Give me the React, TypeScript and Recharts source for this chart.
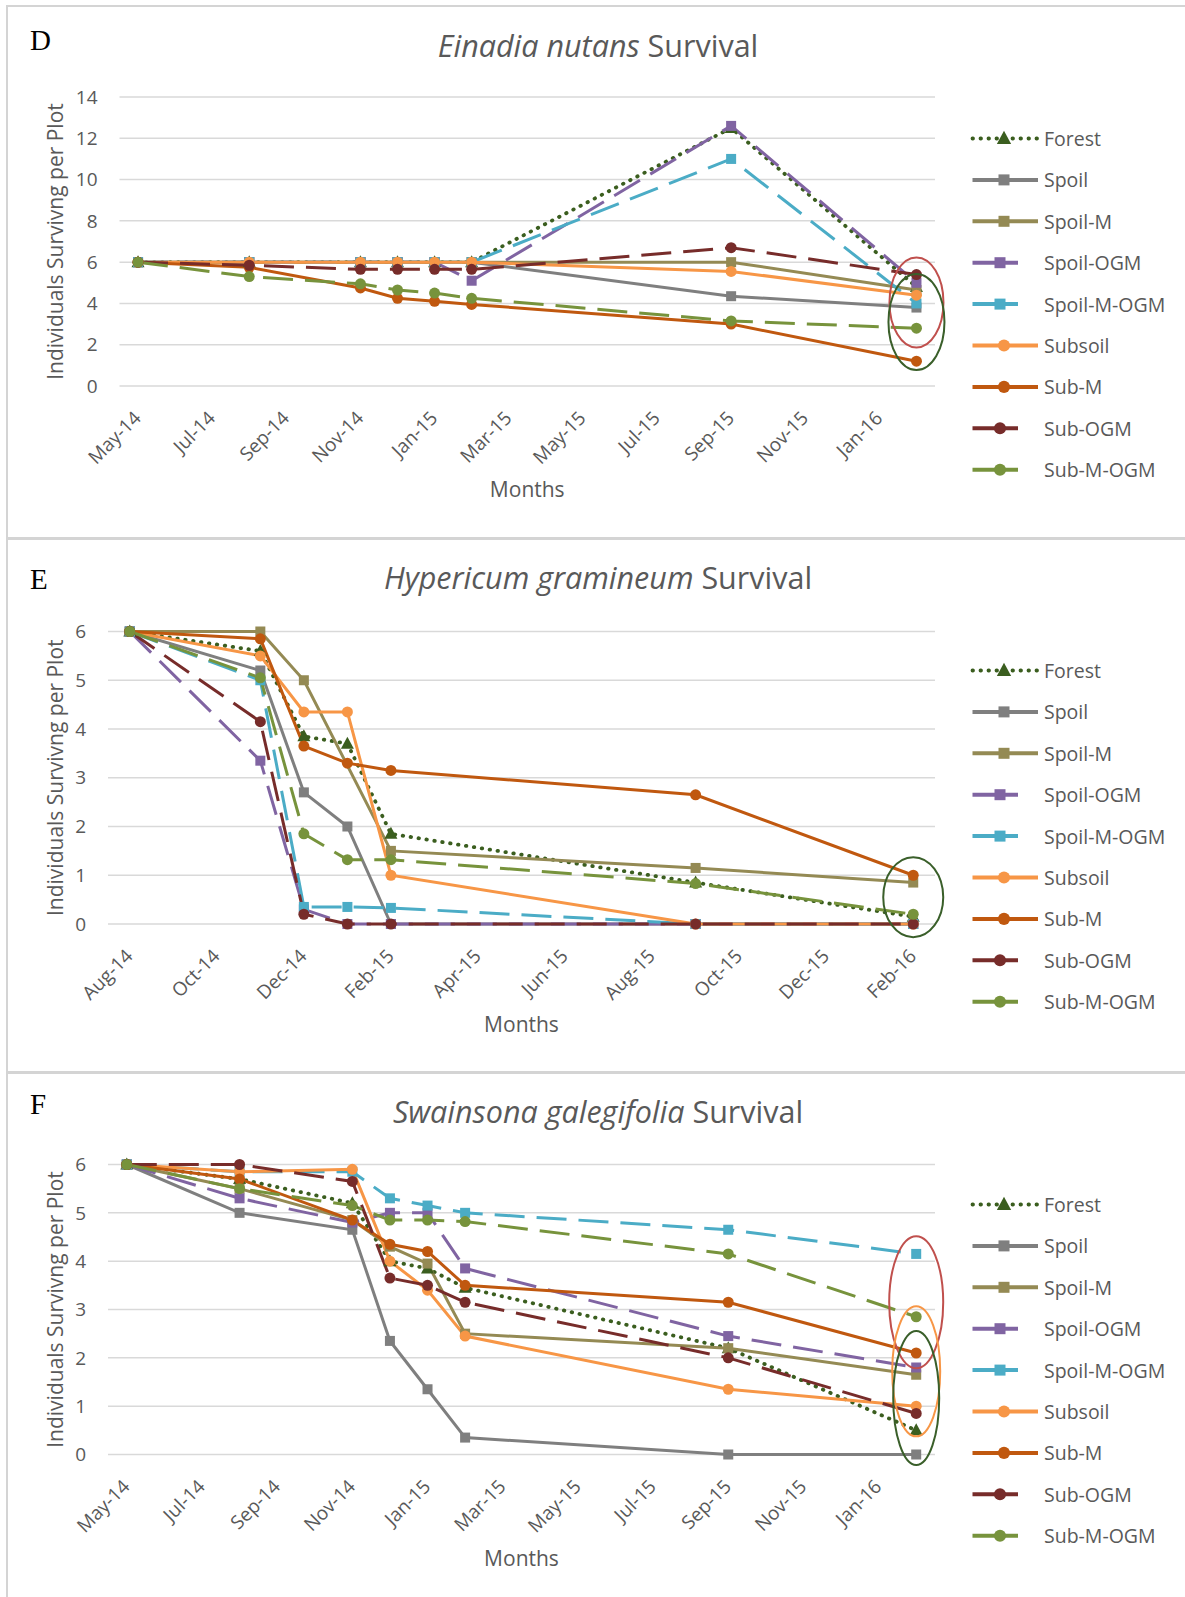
import React from "react";
import { CartesianGrid, Line, LineChart, ReferenceDot, XAxis, YAxis } from "recharts";

const FONT = "'Open Sans', sans-serif";
const TEXT = "#595959";
const GRID = "#d9d9d9";

const SERIES = ["Forest", "Spoil", "Spoil-M", "Spoil-OGM", "Spoil-M-OGM", "Subsoil", "Sub-M", "Sub-OGM", "Sub-M-OGM"];
const COLORS = ["#3b5e1f", "#7f7f7f", "#948a54", "#8064a2", "#4bacc6", "#f79646", "#c0580f", "#772c2a", "#77933c"];
const MARKERS = ["triangle", "square", "square", "square", "square", "circle", "circle", "circle", "circle"];
const STROKES = ["dot", "solid", "solid", "dash", "dash", "solid", "solid", "dash", "dash"];

const MAY_LABELS = ["May-14", "Jul-14", "Sep-14", "Nov-14", "Jan-15", "Mar-15", "May-15", "Jul-15", "Sep-15", "Nov-15", "Jan-16"];
const AUG_LABELS = ["Aug-14", "Oct-14", "Dec-14", "Feb-15", "Apr-15", "Jun-15", "Aug-15", "Oct-15", "Dec-15", "Feb-16"];

// D: Einadia nutans, months after May-14, rows in SERIES order
const EINADIA_MONTHS = [0, 3, 6, 7, 8, 9, 16, 21];
const EINADIA_VALUES = [
  [6, 6, 6, 6, 6, 6, 12.5, 4.8],
  [6, 6, 6, 6, 6, 6, 4.35, 3.8],
  [6, 6, 6, 6, 6, 6, 6.0, 4.65],
  [6, 6, 6, 6, 6, 5.1, 12.6, 5.0],
  [6, 6, 6, 6, 6, 6, 11.0, 4.0],
  [6, 6, 6, 6, 6, 6, 5.55, 4.4],
  [6, 5.75, 4.75, 4.25, 4.1, 3.95, 3.0, 1.2],
  [6, 5.85, 5.65, 5.65, 5.65, 5.65, 6.7, 5.4],
  [6, 5.3, 4.95, 4.65, 4.5, 4.25, 3.15, 2.8],
];

// E: Hypericum gramineum, months after Aug-14
const HYPERICUM_MONTHS = [0, 3, 4, 5, 6, 13, 18];
const HYPERICUM_VALUES = [
  [6, 5.6, 3.85, 3.7, 1.85, 0.85, 0.15],
  [6, 5.2, 2.7, 2.0, 0, 0, 0],
  [6, 6, 5.0, null, 1.5, 1.15, 0.85],
  [6, 3.35, 0.3, 0, 0, 0, 0],
  [6, 5.0, 0.35, 0.35, 0.33, 0, 0],
  [6, 5.5, 4.35, 4.35, 1.0, 0, 0],
  [6, 5.85, 3.65, 3.3, 3.15, 2.65, 1.0],
  [6, 4.15, 0.2, 0, 0, 0, 0],
  [6, 5.05, 1.85, 1.32, 1.32, 0.83, 0.2],
];

// F: Swainsona galegifolia, months after May-14
const SWAINSONA_MONTHS = [0, 3, 6, 7, 8, 9, 16, 21];
const SWAINSONA_VALUES = [
  [6, 5.7, 5.2, 4.0, 3.85, 3.45, 2.2, 0.5],
  [6, 5.0, 4.65, 2.35, 1.35, 0.35, 0, 0],
  [6, 5.5, 4.85, 4.3, 3.95, 2.5, 2.2, 1.65],
  [6, 5.3, 4.8, 5.0, 5.0, 3.85, 2.45, 1.8],
  [6, 5.85, 5.85, 5.3, 5.15, 5.0, 4.65, 4.15],
  [6, 5.85, 5.9, 4.0, 3.4, 2.45, 1.35, 1.0],
  [6, 5.7, 4.85, 4.35, 4.2, 3.5, 3.15, 2.1],
  [6, 6.0, 5.65, 3.65, 3.5, 3.15, 2.0, 0.85],
  [6, 5.5, 5.15, 4.85, 4.85, 4.82, 4.15, 2.85],
];

type Ring = { x: number; y: number; rx: number; ry: number; color: string };
type Plot = { left: number; right: number; top: number; bottom: number };

const EINADIA_RINGS: Ring[] = [
  { x: 21, y: 4.05, rx: 27, ry: 45, color: "#c0504d" },
  { x: 21, y: 3.1, rx: 28, ry: 48, color: "#3a5f2a" },
];
const HYPERICUM_RINGS: Ring[] = [{ x: 18, y: 0.55, rx: 30, ry: 40, color: "#3a5f2a" }];
const SWAINSONA_RINGS: Ring[] = [
  { x: 21, y: 3.15, rx: 27, ry: 66, color: "#c0504d" },
  { x: 21, y: 1.72, rx: 24, ry: 65, color: "#f79646" },
  { x: 21, y: 1.17, rx: 23, ry: 67, color: "#3a5f2a" },
];

function dashFor(kind: string) {
  if (kind === "dot") return { strokeDasharray: "0.5 7.5", strokeLinecap: "round" as const, strokeWidth: 3.8 };
  if (kind === "dash") return { strokeDasharray: "30 12", strokeWidth: 3 };
  return { strokeWidth: 3 };
}

function marker(shape: string, color: string, cx: number, cy: number, key?: any, s = 1) {
  if (shape === "square")
    return <rect key={key} x={cx - 5 * s} y={cy - 5 * s} width={10 * s} height={10 * s} fill={color} />;
  if (shape === "circle") return <circle key={key} cx={cx} cy={cy} r={5.5 * s} fill={color} />;
  return (
    <polygon
      key={key}
      points={`${cx},${cy - 7 * s} ${cx + 6.5 * s},${cy + 5 * s} ${cx - 6.5 * s},${cy + 5 * s}`}
      fill={color}
    />
  );
}

const makeDot = (shape: string, color: string) => (p: any) => {
  if (p.cx == null || p.cy == null || p.value == null) return <g key={`n${p.index}`} />;
  return marker(shape, color, p.cx, p.cy, `d${p.index}`);
};

const makeTick = (labels: string[]) => (p: any) => {
  const x = p.x - 5;
  const y = p.y + 4;
  return (
    <text
      x={x}
      y={y}
      dy={13}
      transform={`rotate(-45 ${x} ${y})`}
      textAnchor="end"
      fontSize={19}
      fontFamily={FONT}
      fill={TEXT}
    >
      {labels[Math.round(p.payload.value / 2)]}
    </text>
  );
};

function LegendBox() {
  return (
    <svg width={225} height={380} style={{ position: "absolute", left: 960, top: 110 }}>
      {SERIES.map((s, i) => {
        const y = 23.5 + i * 41.4;
        const kind = STROKES[i];
        const end = kind === "dash" ? 58 : 78;
        const mx = kind === "dash" ? 40 : 44;
        const lineStyle = kind === "dot" ? dashFor("dot") : { strokeWidth: 4 };
        return (
          <g key={s}>
            <line x1={12.5} x2={end} y1={y} y2={y} stroke={COLORS[i]} {...lineStyle} />
            {marker(MARKERS[i], COLORS[i], mx, y, undefined, 1.1)}
            <text x={84} y={y} dominantBaseline="central" fontSize={19.5} fontFamily={FONT} fill={TEXT}>
              {s}
            </text>
          </g>
        );
      })}
    </svg>
  );
}

type PanelProps = {
  top: number;
  height: number;
  letter: string;
  letterTop: number;
  species: string;
  months: number[];
  values: (number | null)[][];
  labels: string[];
  yMax: number;
  yStep: number;
  plot: Plot;
  monthsBaseline: number;
  rings: Ring[];
};

function Panel(props: PanelProps) {
  const { top, height, letter, letterTop, species, months, values, labels, yMax, yStep, plot, monthsBaseline, rings } = props;
  const rows = months.map((m, i) => {
    const row: Record<string, number | null> = { m };
    SERIES.forEach((s, k) => {
      row[s] = values[k][i];
    });
    return row;
  });
  const yTicks = Array.from({ length: yMax / yStep + 1 }, (_, i) => i * yStep);
  const xTicks = labels.map((_, i) => i * 2);
  const last = months[months.length - 1];
  const axisH = 120;

  return (
    <div
      style={{
        position: "absolute",
        left: 0,
        top,
        width: 1185,
        height,
        fontFamily: FONT,
      }}
    >
      <div
        style={{
          position: "absolute",
          left: 6,
          top: 0,
          width: 1185,
          height: height + 10,
          borderTop: `${top < 10 ? 2 : 3}px solid #d4d4d4`,
          borderLeft: "2px solid #d4d4d4",
          boxSizing: "border-box",
        }}
      />
      <div
        style={{
          position: "absolute",
          left: 30,
          top: letterTop,
          fontFamily: "'Liberation Serif', serif",
          fontSize: 29,
          lineHeight: "29px",
          color: "#000",
        }}
      >
        {letter}
      </div>
      <div
        style={{
          position: "absolute",
          left: 0,
          width: 1196,
          top: 25,
          textAlign: "center",
          fontSize: 30.5,
          lineHeight: "30px",
          color: TEXT,
        }}
      >
        <i>{species}</i> Survival
      </div>
      <div style={{ position: "absolute", left: 0, top: 0 }}>
        <LineChart
          width={1185}
          height={height}
          data={rows}
          margin={{ top: plot.top, right: 1185 - plot.right, left: 40, bottom: height - plot.bottom - axisH }}
        >
          <CartesianGrid vertical={false} stroke={GRID} strokeWidth={1.5} />
          <XAxis
            type="number"
            dataKey="m"
            domain={[-0.5, last + 0.5]}
            ticks={xTicks}
            interval={0}
            axisLine={false}
            tickLine={false}
            tickMargin={14}
            height={axisH}
            tick={makeTick(labels)}
            label={{
              value: "Months",
              position: "insideBottom",
              offset: plot.bottom + axisH - monthsBaseline,
              fill: TEXT,
              fontSize: 21,
              fontFamily: FONT,
            }}
          />
          <YAxis
            type="number"
            domain={[0, yMax]}
            ticks={yTicks}
            width={plot.left - 40}
            axisLine={false}
            tickLine={false}
            tickMargin={16}
            tick={{ fill: TEXT, fontSize: 19, fontFamily: FONT }}
            label={{
              value: "Individuals Survivng per Plot",
              angle: -90,
              position: "insideLeft",
              offset: 16,
              style: { textAnchor: "middle" },
              fill: TEXT,
              fontSize: 21,
              fontFamily: FONT,
            }}
          />
          {SERIES.map((s, k) => (
            <Line
              key={s}
              type="linear"
              dataKey={s}
              stroke={COLORS[k]}
              {...dashFor(STROKES[k])}
              dot={makeDot(MARKERS[k], COLORS[k])}
              activeDot={false}
              connectNulls
              isAnimationActive={false}
            />
          ))}
          {rings.map((r, i) => (
            <ReferenceDot
              key={i}
              x={r.x}
              y={r.y}
              r={1}
              shape={(p: any) => (
                <ellipse cx={p.cx} cy={p.cy} rx={r.rx} ry={r.ry} fill="none" stroke={r.color} strokeWidth={2} />
              )}
            />
          ))}
        </LineChart>
      </div>
      <LegendBox />
    </div>
  );
}

export default function App() {
  return (
    <div style={{ position: "relative", width: 1185, height: 1597, overflow: "hidden", background: "#fff" }}>
      <style>{"body{margin:0}"}</style>
      <Panel
        top={5}
        height={532}
        letter="D"
        letterTop={21}
        species="Einadia nutans"
        months={EINADIA_MONTHS}
        values={EINADIA_VALUES}
        labels={MAY_LABELS}
        yMax={14}
        yStep={2}
        plot={{ left: 119.5, right: 935, top: 92, bottom: 381 }}
        monthsBaseline={492}
        rings={EINADIA_RINGS}
      />
      <Panel
        top={537}
        height={534}
        letter="E"
        letterTop={28}
        species="Hypericum gramineum"
        months={HYPERICUM_MONTHS}
        values={HYPERICUM_VALUES}
        labels={AUG_LABELS}
        yMax={6}
        yStep={1}
        plot={{ left: 108, right: 935, top: 94.5, bottom: 387 }}
        monthsBaseline={495}
        rings={HYPERICUM_RINGS}
      />
      <Panel
        top={1071}
        height={526}
        letter="F"
        letterTop={19}
        species="Swainsona galegifolia"
        months={SWAINSONA_MONTHS}
        values={SWAINSONA_VALUES}
        labels={MAY_LABELS}
        yMax={6}
        yStep={1}
        plot={{ left: 108, right: 935, top: 93.5, bottom: 383.5 }}
        monthsBaseline={495}
        rings={SWAINSONA_RINGS}
      />
    </div>
  );
}
